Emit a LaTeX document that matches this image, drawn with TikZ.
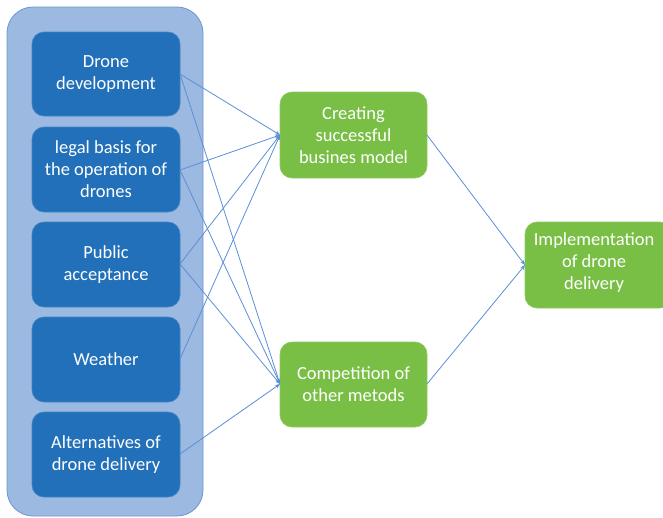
\documentclass[tikz,border=0pt]{standalone}
\usepackage{fontspec}
\setmainfont{Carlito}
\usetikzlibrary{arrows.meta}
\definecolor{outerfill}{HTML}{9BB9E1}
\definecolor{outerdraw}{HTML}{6E96CC}
\definecolor{boxblue}{HTML}{2170B9}
\definecolor{boxgreen}{HTML}{79BF45}
\definecolor{linkblue}{HTML}{5B8FD8}
\begin{document}
\begin{tikzpicture}[x=1pt,y=-1pt,
  bluebox/.style={draw=boxblue!85!white, line width=0.6pt, fill=boxblue, rounded corners=12pt, text=white,
    font=\fontsize{18.5}{22}\selectfont, align=center},
  greenbox/.style={draw=boxgreen!85!white, line width=0.6pt, fill=boxgreen, rounded corners=12pt, text=white,
    font=\fontsize{18.5}{22}\selectfont, align=center},
  link/.style={draw=linkblue, line width=0.8pt, -{Stealth[length=5pt,width=4pt]}}]
\useasboundingbox (0,0) rectangle (663,517);
\path[fill=outerfill, draw=outerdraw, line width=0.8pt, rounded corners=26pt] (7,7) rectangle (203,516);
% blue boxes
\path[bluebox] (32,32) rectangle (180,116) node[midway] (d1) {Drone\\development};
\coordinate (d1e) at (180,74);
\path[bluebox] (32,127) rectangle (180,212) node[midway] (d2) {legal basis for\\the operation of\\drones};
\coordinate (d2e) at (180,170);
\path[bluebox] (32,222) rectangle (180,307) node[midway] (d3) {Public\\acceptance};
\coordinate (d3e) at (180,264);
\path[bluebox] (32,317) rectangle (180,402) node[midway] (d4) {Weather};
\coordinate (d4e) at (180,359);
\path[bluebox] (32,412) rectangle (180,497) node[midway] (d5) {Alternatives of\\drone delivery};
\coordinate (d5e) at (180,454);
% green boxes
\path[greenbox] (280,92) rectangle (427,178) node[midway] (g1) {Creating\\successful\\busines model};
\coordinate (g1w) at (280,135);
\coordinate (g1e) at (427,135);
\path[greenbox] (280,342) rectangle (427,427) node[midway] (g2) {Competition of\\other metods};
\coordinate (g2w) at (280,384);
\coordinate (g2e) at (427,384);
\path[greenbox] (525,222) rectangle (672,308) node[pos=0.47] (g3) {Implementation\\of drone\\delivery};
\coordinate (g3w) at (525,265);
% links
\draw[link] (d1e) -- (g1w);
\draw[link] (d1e) -- (g2w);
\draw[link] (d2e) -- (g1w);
\draw[link] (d2e) -- (g2w);
\draw[link] (d3e) -- (g1w);
\draw[link] (d3e) -- (g2w);
\draw[link] (d4e) -- (g1w);
\draw[link] (d5e) -- (g2w);
\draw[link] (g1e) -- (g3w);
\draw[link] (g2e) -- (g3w);
\end{tikzpicture}
\end{document}
